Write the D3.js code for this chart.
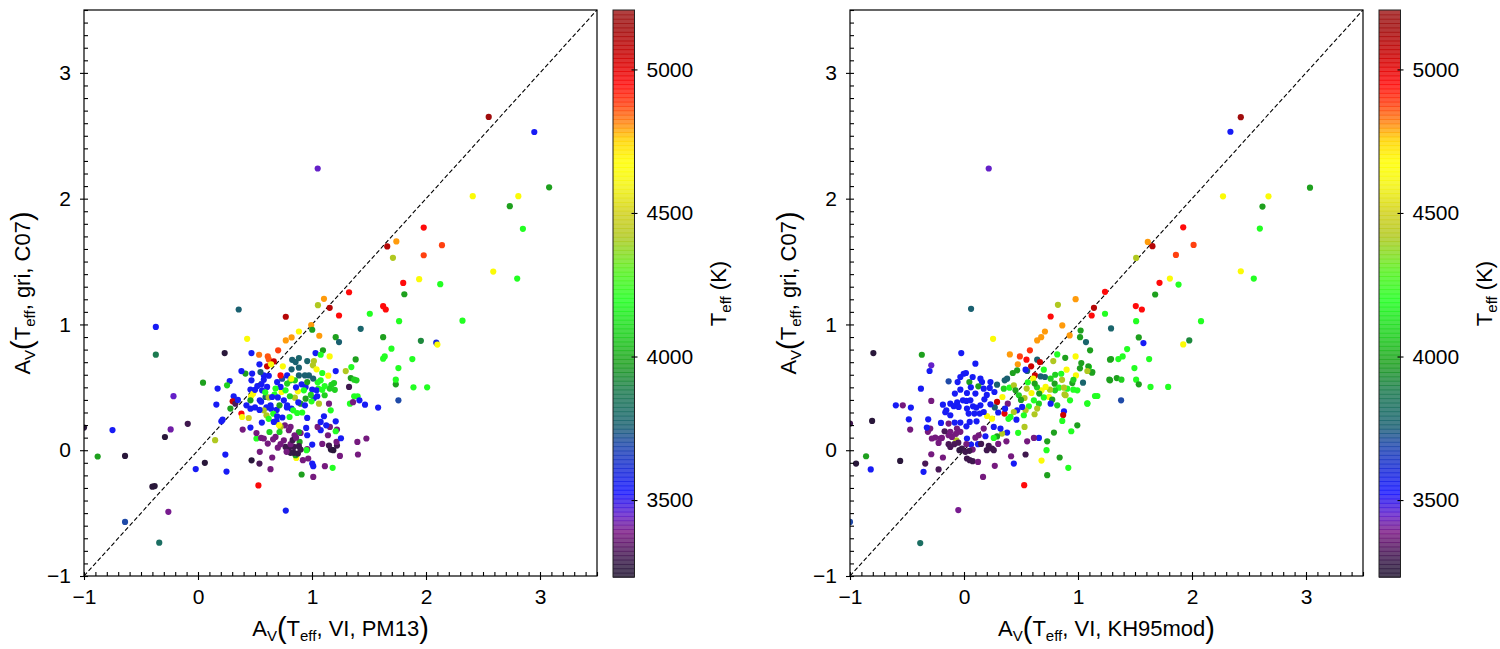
<!DOCTYPE html>
<html>
<head>
<meta charset="utf-8">
<script src="https://cdn.jsdelivr.net/npm/d3@7"></script>
<style>
  body { margin: 0; background: #fff; }
  svg text { font-family: "Liberation Sans", Arial, sans-serif; fill: #000; }
</style>
</head>
<body>
<div id="chart"></div>
<script>

// axis ticks and colour range
const majorTicks = [-1, 0, 1, 2, 3];
const tempTicks = [3500, 4000, 4500, 5000];
const tempRange = [3232, 5207];

// colormap stops (Teff -> colour)
const cmapTemps = [3232, 3270, 3320, 3390, 3450, 3530, 3640, 3700, 3760, 3800, 3880, 3980, 4080, 4200, 4300, 4420, 4500, 4600, 4680, 4760, 4820, 4880, 4950, 5050, 5150, 5207];
const cmapColors = ["#241634", "#2e1840", "#4a1858", "#7c1a84", "#6420c8", "#1616ff", "#1a34c8", "#1f4aa8", "#1a6070", "#1a6a68", "#1c7a50", "#1ea01e", "#20d020", "#22ff22", "#58f020", "#b0c820", "#d0d01c", "#f4f410", "#ffff00", "#ffd000", "#ff8010", "#ff4010", "#ff0a0a", "#cc0000", "#a00c0c", "#a01818"];

// [A_V(VI, PM13), A_V(gri, C07), Teff]
const pm13Points = [
  [-1.00, 0.18, 3250], [-0.88, -0.05, 3980], [-0.75, 0.16, 3550], [-0.64, -0.045, 3250], [-0.64, -0.57, 3700],
  [-0.40, -0.29, 3250], [-0.38, -0.285, 3250], [-0.29, 0.105, 3250], [-0.24, 0.165, 3420], [-0.26, -0.49, 3400],
  [-0.34, -0.735, 3820], [-0.09, 0.21, 3300], [-0.02, -0.15, 3550], [0.06, -0.10, 3250], [0.15, 0.08, 4420],
  [0.24, -0.035, 3550], [0.25, -0.17, 3550], [0.47, -0.08, 3250], [0.53, -0.28, 4960], [0.77, -0.48, 3560],
  [-0.37, 0.98, 3550], [-0.37, 0.76, 3880], [-0.215, 0.43, 3450], [1.05, 2.24, 3450],
  [2.55, 2.65, 5150], [2.95, 2.53, 3550], [3.08, 2.09, 3980], [2.41, 2.02, 4650], [2.81, 2.02, 4650],
  [2.735, 1.94, 3980], [2.85, 1.76, 4200], [1.98, 1.77, 4950], [2.14, 1.63, 4880], [1.74, 1.66, 4800],
  [1.66, 1.62, 5100], [1.71, 1.53, 4420], [1.98, 1.55, 4880], [2.59, 1.42, 4650], [2.80, 1.365, 4200],
  [1.94, 1.36, 4650], [1.80, 1.33, 4950], [2.125, 1.32, 4200], [1.81, 1.24, 3980], [2.32, 1.03, 4200],
  [1.955, 0.87, 3920], [2.09, 0.855, 3600], [2.10, 0.84, 4650], [1.88, 0.725, 4200], [1.735, 0.524, 3980],
  [1.89, 0.50, 4200], [2.01, 0.50, 4200],
  [1.325, 1.256, 4950], [1.105, 1.204, 4800], [1.052, 1.153, 4420], [1.155, 1.132, 5100], [1.237, 1.071, 4950],
  [1.624, 1.145, 4950], [1.647, 1.119, 4950], [1.507, 1.085, 4200], [1.764, 1.026, 4200], [0.357, 1.119, 3760],
  [0.770, 1.061, 5100], [0.993, 0.995, 4800], [1.002, 0.958, 3980], [0.885, 0.944, 4650], [1.064, 0.910, 4800],
  [0.821, 0.897, 4800], [0.770, 0.873, 4800], [0.431, 0.886, 4650], [1.208, 0.899, 3980], [1.237, 0.860, 3760],
  [1.427, 0.965, 3780], [1.624, 0.899, 3980], [1.697, 0.807, 4200], [1.624, 0.728, 4200], [1.638, 0.746, 4200],
  [1.758, 0.653, 4200], [1.383, 0.722, 3980], [1.345, 0.661, 4200], [1.296, 0.629, 4420], [1.34, 0.574, 3980],
  [1.37, 0.561, 4080], [1.39, 0.556, 4080], [1.735, 0.561, 4200], [1.758, 0.397, 3700], [1.37, 0.429, 4200],
  [1.40, 0.429, 4200], [1.333, 0.370, 4200], [1.416, 0.397, 3550], [1.465, 0.362, 3550], [1.580, 0.339, 3550],
  [1.325, 0.503, 3300], [1.36, 0.382, 3380], [1.477, 0.093, 3380], [1.398, 0.066, 3380], [1.403, -0.034, 3380],
  [1.245, -0.045, 3380], [1.166, 0.005, 3250], [1.187, 0.0, 3250], [1.149, 0.037, 3300], [1.219, 0.037, 3300],
  [1.140, 0.119, 3380], [1.215, 0.066, 3380], [1.254, 0.095, 3550], [1.219, 0.164, 3380], [1.157, 0.185, 3380],
  [1.125, 0.198, 3550], [1.076, 0.159, 3550], [1.049, 0.185, 3380], [1.208, 0.230, 3550], [1.208, 0.151, 4200],
  [0.958, 0.257, 3550], [0.949, 0.177, 3550], [0.958, 0.119, 3550], [1.002, 0.045, 3550], [0.891, 0.066, 3980],
  [0.958, 0.008, 3380], [0.952, 0.0, 4200], [1.002, -0.106, 3550], [1.011, -0.127, 3550], [0.920, -0.079, 3380],
  [0.967, -0.066, 3380], [0.862, -0.061, 4650], [0.856, -0.040, 3980], [0.876, -0.026, 3280], [0.841, -0.021, 3280],
  [0.812, -0.021, 3280], [0.797, 0.013, 3300], [0.768, 0.026, 3300], [0.841, 0.026, 3300], [0.885, 0.032, 3300],
  [0.900, 0.005, 3300], [0.777, -0.013, 3380], [0.812, 0.048, 3380], [0.724, 0.048, 3380], [0.680, 0.106, 3380],
  [0.753, 0.079, 3380], [0.797, 0.159, 3380], [0.762, 0.198, 3380], [0.812, 0.185, 3380], [0.900, 0.137, 3380],
  [0.885, 0.145, 3980], [0.847, 0.119, 3380], [0.724, 0.185, 4420], [0.715, 0.145, 4080], [0.627, 0.145, 4080],
  [0.659, 0.087, 3380], [0.577, 0.093, 3380], [0.612, 0.053, 3380], [0.513, 0.093, 4200], [0.554, 0.098, 3380],
  [0.513, 0.137, 3380], [0.542, -0.013, 3380], [0.539, -0.106, 3320], [0.651, -0.058, 3380], [0.636, -0.151, 3380],
  [0.392, 0.164, 3380], [0.460, 0.18, 3550], [0.909, -0.193, 3980], [1.011, -0.212, 3380], [1.113, -0.127, 3380],
  [1.181, -0.140, 4200], [0.234, 0.772, 3250], [0.469, 0.772, 3550], [0.536, 0.759, 4830], [0.612, 0.746, 4860],
  [0.621, 0.722, 4860], [0.703, 0.794, 4880], [0.665, 0.706, 5050], [0.606, 0.667, 5050], [0.641, 0.683, 4650],
  [0.539, 0.683, 3550], [0.744, 0.667, 4650], [0.826, 0.719, 3760], [0.856, 0.701, 3760], [0.885, 0.733, 3780],
  [0.958, 0.709, 3780], [1.031, 0.772, 3550], [1.096, 0.794, 3980], [1.076, 0.759, 4200], [1.155, 0.746, 4650],
  [1.017, 0.709, 4420], [1.008, 0.675, 4420], [1.040, 0.643, 4650], [1.090, 0.614, 4200], [1.143, 0.593, 4650],
  [1.208, 0.629, 3550], [1.193, 0.534, 4080], [1.17, 0.52, 4080], [1.20, 0.48, 4080], [1.155, 0.49, 4080],
  [1.111, 0.51, 4200], [1.076, 0.556, 4200], [1.055, 0.49, 4200], [0.973, 0.595, 3760], [0.938, 0.595, 3760],
  [0.885, 0.656, 3760], [0.821, 0.643, 3760], [0.885, 0.595, 3760], [0.85, 0.556, 4080], [0.812, 0.556, 4080],
  [0.782, 0.53, 4080], [0.909, 0.524, 3550], [0.944, 0.503, 3550], [1.002, 0.482, 3550], [1.017, 0.415, 3550],
  [1.046, 0.429, 3550], [0.996, 0.389, 4200], [1.111, 0.437, 4080], [1.149, 0.370, 3380], [1.061, 0.37, 4420],
  [1.164, 0.317, 4200], [1.105, 0.270, 3550], [1.076, 0.225, 3550], [0.876, 0.468, 4650], [0.850, 0.418, 4420],
  [0.806, 0.429, 4080], [0.733, 0.463, 4650], [0.768, 0.476, 4200], [0.724, 0.503, 3550], [0.694, 0.542, 3550],
  [0.680, 0.49, 4200], [0.738, 0.569, 3700], [0.782, 0.595, 3550], [0.724, 0.595, 4950], [0.818, 0.569, 4650],
  [0.621, 0.592, 3550], [0.577, 0.595, 3550], [0.548, 0.621, 3760], [0.557, 0.524, 3550], [0.577, 0.56, 3550],
  [0.475, 0.609, 3550], [0.416, 0.609, 3980], [0.381, 0.629, 3550], [0.278, 0.55, 3550], [0.255, 0.516, 4080],
  [0.172, 0.49, 3550], [0.044, 0.537, 3980], [0.313, 0.429, 3550], [0.161, 0.363, 3550], [0.304, 0.389, 5050],
  [0.328, 0.37, 3320], [0.284, 0.331, 3980], [0.216, 0.243, 3550], [0.205, 0.230, 3550], [0.381, 0.291, 4950],
  [0.387, 0.264, 4650], [0.445, 0.256, 4500], [0.460, 0.482, 3550], [0.466, 0.429, 4650], [0.484, 0.45, 4650],
  [0.50, 0.48, 3550], [0.52, 0.51, 3550], [0.460, 0.397, 3980], [0.542, 0.397, 3550], [0.554, 0.386, 3550],
  [0.50, 0.34, 3550], [0.60, 0.34, 3550], [0.64, 0.33, 3550], [0.69, 0.32, 3550], [0.601, 0.278, 4420],
  [0.62, 0.25, 4200], [0.66, 0.29, 4200], [0.689, 0.233, 3550], [0.71, 0.20, 4650], [0.694, 0.270, 3550],
  [0.665, 0.225, 3550], [0.78, 0.34, 3550], [0.82, 0.33, 3550], [0.803, 0.264, 4200], [0.870, 0.296, 4200],
  [0.914, 0.30, 4200], [0.577, 0.317, 4420], [0.54, 0.32, 3550], [0.46, 0.33, 3550], [0.425, 0.357, 3550],
  [0.469, 0.556, 3550], [0.592, 0.423, 3760], [0.636, 0.357, 3550], [0.62, 0.42, 4420], [0.671, 0.442, 4200],
  [0.715, 0.357, 3980], [0.753, 0.397, 3550], [0.782, 0.357, 3550], [0.835, 0.317, 4200], [0.900, 0.37, 3980],
  [0.938, 0.357, 3550], [0.944, 0.41, 3980], [0.929, 0.476, 4200], [0.958, 0.542, 3980], [1.05, 0.54, 4200],
  [1.01, 0.57, 3760], [1.040, 0.476, 3550], [1.09, 0.48, 4200],
  [0.562, 0.476, 3550], [0.606, 0.503, 3550], [0.65, 0.423, 3550], [0.70, 0.42, 3550], [0.59, 0.46, 4200],
  [0.86, 0.50, 3550], [0.99, 0.44, 4080], [0.88, 0.38, 3550], [0.74, 0.26, 3550], [0.56, 0.22, 3550],
  [0.35, 0.40, 3550], [0.83, 0.08, 3300], [0.86, 0.10, 3380], [0.70, 0.02, 3380], [1.09, 0.05, 3380]
];

// [A_V(VI, KH95mod), A_V(gri, C07), Teff]
const kh95Points = [
  [0.217, 2.24, 3450], [0.062, 1.124, 3760], [-0.384, -0.738, 3820], [-0.05, -0.476, 3400], [-1.0, -0.57, 3700],
  [2.428, 2.648, 5150], [2.337, 2.532, 3550], [3.035, 2.087, 3980], [2.272, 2.019, 4650], [2.671, 2.019, 4650],
  [2.618, 1.937, 3980], [2.595, 1.762, 4200], [1.923, 1.772, 4950], [2.014, 1.632, 4880], [1.612, 1.656, 4800],
  [1.653, 1.622, 5100], [1.510, 1.529, 4420], [1.859, 1.553, 4880], [2.428, 1.423, 4650], [2.542, 1.365, 4200],
  [1.806, 1.365, 4650], [1.715, 1.331, 4950], [1.882, 1.317, 4200], [1.677, 1.238, 3980], [1.237, 1.259, 4950],
  [1.140, 1.132, 5100], [1.120, 1.071, 4950], [1.507, 1.146, 4950], [1.560, 1.119, 4950], [1.237, 1.085, 4200],
  [1.510, 1.026, 4200], [2.079, 1.026, 4200], [0.979, 1.201, 4800], [0.824, 1.156, 4420], [1.290, 0.968, 3780],
  [1.533, 0.897, 3980], [1.574, 0.852, 3550], [1.923, 0.841, 4650], [1.976, 0.873, 3920], [1.431, 0.804, 4200],
  [1.392, 0.746, 4200], [1.354, 0.725, 4200], [1.290, 0.725, 3980], [1.495, 0.653, 4200], [1.624, 0.725, 4200],
  [1.275, 0.561, 3980], [1.340, 0.574, 3980], [1.381, 0.561, 4080], [1.510, 0.561, 4200], [1.533, 0.524, 3980],
  [1.636, 0.503, 4200], [1.791, 0.503, 4200], [1.149, 0.431, 4200], [1.170, 0.431, 4200], [1.082, 0.373, 4200],
  [1.378, 0.397, 3700], [1.017, 0.651, 3980], [1.096, 0.661, 4200], [1.123, 0.616, 3980], [0.888, 0.735, 3980],
  [0.882, 0.444, 4420],
  [0.760, 1.063, 4950], [0.862, 0.992, 4800], [0.927, 0.913, 4800], [0.710, 0.944, 4800], [0.677, 0.899, 4800],
  [0.642, 0.873, 4800], [0.255, 0.886, 4650], [1.023, 0.952, 3980], [1.018, 0.899, 3980], [1.070, 0.860, 3780],
  [1.106, 0.794, 3980], [0.578, 0.794, 4900], [0.490, 0.746, 4880], [0.402, 0.762, 4800], [0.548, 0.72, 4950],
  [0.642, 0.72, 3760], [0.666, 0.701, 5050], [0.589, 0.667, 5050], [0.472, 0.683, 4800], [0.554, 0.630, 3760],
  [0.54, 0.64, 3550], [0.466, 0.635, 3980], [0.428, 0.614, 3980], [0.378, 0.569, 3760], [0.357, 0.556, 3760],
  [0.290, 0.521, 3760], [0.267, 0.463, 3550], [0.337, 0.423, 4650], [0.349, 0.489, 4080], [0.399, 0.497, 4200],
  [0.437, 0.516, 4420], [0.452, 0.476, 3980], [0.481, 0.437, 4080], [0.531, 0.415, 4420], [0.50, 0.40, 3980],
  [0.622, 0.595, 5050], [0.607, 0.569, 4650], [0.672, 0.587, 3760], [0.710, 0.582, 3760], [0.760, 0.569, 4080],
  [0.783, 0.709, 4420], [0.818, 0.762, 4200], [0.853, 0.608, 4200], [0.900, 0.640, 4650], [0.979, 0.746, 4650],
  [1.029, 0.693, 3980], [1.091, 0.667, 3980], [1.126, 0.622, 3980], [1.082, 0.63, 4420], [0.982, 0.595, 4650],
  [0.950, 0.534, 3980], [0.906, 0.489, 4200], [0.994, 0.476, 4200], [0.959, 0.481, 4200], [1.044, 0.537, 3780],
  [0.795, 0.529, 3980], [0.833, 0.497, 4200], [0.877, 0.497, 4420], [0.891, 0.437, 4420], [0.930, 0.397, 4200],
  [0.798, 0.476, 4080], [0.754, 0.481, 4420], [0.745, 0.423, 4650], [0.774, 0.402, 3980], [0.818, 0.357, 4080],
  [0.760, 0.370, 3550], [0.716, 0.503, 4650], [0.680, 0.476, 4650], [0.64, 0.50, 4080], [0.62, 0.53, 3980],
  [0.592, 0.455, 4650], [0.56, 0.54, 4200], [0.613, 0.397, 4200], [0.657, 0.370, 4080], [0.642, 0.331, 4420],
  [0.619, 0.286, 4420], [0.569, 0.349, 4200], [0.540, 0.317, 4420], [0.525, 0.278, 4200], [0.466, 0.317, 3550],
  [0.510, 0.344, 3550], [0.437, 0.304, 4420], [0.408, 0.265, 4200], [0.355, 0.291, 5000], [0.290, 0.384, 5050],
  [0.27, 0.34, 3760], [0.384, 0.370, 3380], [0.36, 0.33, 3550], [0.39, 0.25, 4200], [0.246, 0.251, 4650],
  [0.202, 0.272, 4650], [0.460, 0.243, 3550], [0.531, 0.185, 4420], [0.475, 0.138, 4200], [0.378, 0.140, 3550],
  [0.334, 0.132, 4420], [0.29, 0.11, 3980], [0.261, 0.098, 4200], [0.320, 0.172, 3550], [0.877, 0.310, 3550],
  [0.870, 0.280, 5050], [0.862, 0.233, 4200], [0.994, 0.198, 3980], [0.941, 0.151, 4200], [1.082, 0.370, 4200],
  [1.281, 0.556, 3980], [1.281, 0.72, 3980], [0.789, 0.140, 3980], [0.730, 0.071, 3980], [0.724, 0.0, 4200],
  [0.839, -0.058, 3980], [0.915, -0.140, 4200], [0.680, -0.082, 4650], [0.730, -0.198, 3980], [0.528, -0.278, 4950],
  [0.554, 0.071, 3380], [0.540, -0.034, 3300], [0.657, 0.098, 3550], [0.613, 0.098, 3380], [0.437, -0.106, 3550],
  [0.413, -0.048, 3380], [0.372, 0.071, 3380], [0.270, -0.124, 3380], [0.167, -0.212, 3380], [0.261, 0.0, 3300],
  [0.246, 0.013, 3300], [0.217, 0.034, 3300], [0.188, 0.111, 3550], [0.123, 0.048, 3550], [0.129, 0.119, 3380],
  [0.062, 0.045, 3550], [0.026, 0.093, 3550], [0.021, 0.048, 3380], [0.076, 0.005, 3380], [0.047, -0.005, 3300],
  [0.012, -0.013, 3300], [-0.018, 0.013, 3300], [-0.04, 0.0, 3280], [0.026, -0.066, 3300], [0.05, -0.079, 3300],
  [0.076, -0.087, 3300], [0.123, -0.093, 3380], [-0.067, 0.079, 4420], [-0.085, 0.048, 3320], [-0.12, 0.026, 3320],
  [-0.135, 0.048, 3320], [-0.106, 0.106, 3380], [-0.135, 0.119, 3380], [-0.12, 0.146, 3380], [-0.062, 0.172, 3380],
  [0.021, 0.19, 3550], [-0.032, 0.220, 3550], [-0.082, 0.220, 3550], [-0.135, 0.212, 3380], [-0.202, 0.217, 3550],
  [-0.170, 0.151, 3320], [-0.194, 0.098, 3380], [-0.223, 0.058, 3380], [-0.208, 0.093, 3380], [-0.252, 0.101, 3380],
  [-0.282, 0.093, 3380], [-0.287, -0.032, 3380], [-0.296, 0.172, 3380], [-0.317, 0.146, 3380], [-0.326, 0.180, 3550],
  [-0.314, 0.246, 3550], [-0.185, -0.058, 3380], [-0.340, -0.106, 3320], [-0.355, -0.172, 3550], [-0.223, -0.153, 3320],
  [-0.472, 0.164, 3380], [-0.484, 0.246, 3550], [-0.466, 0.339, 3550], [-0.537, 0.357, 3380], [-0.598, 0.357, 3550],
  [-0.378, 0.489, 3550], [-0.287, 0.675, 3450], [-0.302, 0.630, 3550], [-0.370, 0.759, 3980], [-0.795, 0.772, 3250],
  [-0.806, 0.233, 3250], [-1.0, 0.212, 3300], [-0.947, -0.106, 3250], [-0.859, -0.048, 3980], [-0.818, -0.153, 3550],
  [-0.560, -0.085, 3250], [-0.287, 0.392, 3380], [-0.185, 0.362, 3550], [-0.155, 0.317, 3550], [-0.12, 0.37, 3550],
  [-0.09, 0.35, 3550], [-0.06, 0.38, 3550], [-0.024, 0.772, 3550], [0.100, 0.688, 3550], [-0.003, 0.608, 3550],
  [0.017, 0.614, 3550], [-0.032, 0.582, 3550], [-0.056, 0.542, 3550], [-0.135, 0.548, 3700], [0.047, 0.542, 3980],
  [0.076, 0.582, 3550], [0.144, 0.569, 3550], [0.158, 0.542, 3550], [0.126, 0.508, 3980], [0.232, 0.542, 3550],
  [0.226, 0.495, 3550], [0.173, 0.489, 3550], [-0.032, 0.481, 3550], [0.026, 0.455, 3550], [-0.009, 0.397, 3550],
  [0.021, 0.392, 3550], [0.056, 0.397, 3550], [0.079, 0.349, 3550], [0.108, 0.339, 3550], [0.144, 0.357, 3550],
  [0.173, 0.304, 3550], [0.138, 0.291, 3550], [0.091, 0.291, 3550], [0.179, 0.405, 3550], [0.232, 0.365, 3550],
  [0.050, 0.225, 3550], [0.11, 0.23, 3550], [0.041, 0.291, 3550], [-0.047, 0.344, 3550], [-0.12, 0.278, 3550],
  [-0.164, 0.302, 3550], [0.026, 0.331, 3550], [-0.032, 0.146, 3380], [-0.07, 0.13, 3380], [0.173, 0.172, 3380],
  [0.261, 0.185, 3550], [0.30, 0.05, 3380], [0.20, 0.0, 3300],
  [0.10, 0.45, 3550], [0.20, 0.44, 3550], [0.06, 0.50, 3550], [-0.08, 0.45, 3550], [0.30, 0.30, 3550],
  [0.70, 0.64, 4200], [0.80, 0.60, 4080], [0.86, 0.56, 4420], [0.70, 0.42, 4200], [0.66, 0.45, 3980],
  [0.55, 0.49, 4420], [0.96, 0.56, 4080], [0.10, 0.10, 3380], [0.15, 0.05, 3300], [-0.05, 0.06, 3320]
];

const svgWidth = 1500, svgHeight = 649;
const panelOffset = 766;

const svg = d3.select("#chart")
  .append("svg")
    .attr("width", svgWidth)
    .attr("height", svgHeight);

const color = d3.scaleLinear()
  .domain(cmapTemps)
  .range(cmapColors)
  .clamp(true);

const fmt = d => d < 0 ? "\u2212" + Math.abs(d) : String(d);
const minorTicks = d3.range(-10, 36).map(i => i / 10);

// write a label with subscripts and tall brackets
function mathLabel(sel, parts) {
  let shift = 0;
  parts.forEach(([txt, kind]) => {
    const size = kind === "sub" ? 15 : kind === "big" ? 29 : 22;
    const s = kind === "sub" ? 4.5 : kind === "big" ? 2 : 0;
    sel.append("tspan")
      .attr("font-size", size)
      .attr("dy", s - shift)
      .text(txt);
    shift = s;
  });
}

function styleAxis(a) {
  a.select(".domain").remove();
  a.selectAll("line").attr("stroke", "black").attr("stroke-width", 1.1);
  a.selectAll("text")
    .style("font-family", "'Liberation Sans', Arial, sans-serif")
    .style("font-size", "21px")
    .attr("fill", "black");
}

function drawPanel(index, points, xParts) {
  const g = svg.append("g")
    .attr("transform", `translate(${index * panelOffset},0)`);

  const x = d3.scaleLinear().domain([-1, 3.5]).range([84, 597]);
  const y = d3.scaleLinear().domain([-1, 3.5]).range([576, 10]);

  g.append("clipPath")
    .attr("id", "clip" + index)
  .append("rect")
    .attr("x", x(-1)).attr("y", y(3.5))
    .attr("width", x(3.5) - x(-1)).attr("height", y(-1) - y(3.5));

  // one-to-one line
  g.append("line")
    .attr("x1", x(-1)).attr("y1", y(-1))
    .attr("x2", x(3.5)).attr("y2", y(3.5))
    .attr("stroke", "black")
    .attr("stroke-width", 1.1)
    .attr("stroke-dasharray", "4.4,2.4");

  // points
  g.append("g")
    .attr("clip-path", `url(#clip${index})`)
  .selectAll("circle")
  .data(points)
  .join("circle")
    .attr("cx", d => x(d[0]))
    .attr("cy", d => y(d[1]))
    .attr("r", 3.1)
    .attr("fill", d => color(d[2]));

  // frame
  g.append("rect")
    .attr("x", x(-1)).attr("y", y(3.5))
    .attr("width", x(3.5) - x(-1)).attr("height", y(-1) - y(3.5))
    .attr("fill", "none")
    .attr("stroke", "black")
    .attr("stroke-width", 1.2);

  // X axis: outer major ticks with labels, inner ticks every 0.1
  const xOut = g.append("g")
    .attr("transform", `translate(0,${y(-1)})`)
    .call(d3.axisBottom(x).tickValues(majorTicks).tickSize(4).tickSizeOuter(0).tickPadding(9).tickFormat(fmt));
  const xIn = g.append("g")
    .attr("transform", `translate(0,${y(-1)})`)
    .call(d3.axisBottom(x).tickValues(minorTicks).tickSize(-4).tickSizeOuter(0).tickFormat(""));

  // Y axis
  const yOut = g.append("g")
    .attr("transform", `translate(${x(-1)},0)`)
    .call(d3.axisLeft(y).tickValues(majorTicks).tickSize(4).tickSizeOuter(0).tickPadding(9).tickFormat(fmt));
  const yIn = g.append("g")
    .attr("transform", `translate(${x(-1)},0)`)
    .call(d3.axisLeft(y).tickValues(minorTicks).tickSize(-4).tickSizeOuter(0).tickFormat(""));

  [xOut, xIn, yOut, yIn].forEach(styleAxis);

  // axis labels
  mathLabel(g.append("text")
    .attr("x", (x(-1) + x(3.5)) / 2)
    .attr("y", 636)
    .attr("text-anchor", "middle"), xParts);

  mathLabel(g.append("text")
    .attr("transform", `translate(30,${(y(-1) + y(3.5)) / 2}) rotate(-90)`)
    .attr("text-anchor", "middle"),
    [["A"], ["V", "sub"], ["(", "big"], ["T"], ["eff", "sub"], [", gri, C07"], [")", "big"]]);

  // colorbar
  const cbX = 613, cbW = 21.5;
  const cb = d3.scaleLinear().domain(tempRange).range([577, 10]);
  const nBands = 130;
  const step = (tempRange[1] - tempRange[0]) / nBands;
  const bands = d3.range(nBands).map(i => tempRange[0] + i * step);

  g.append("g")
  .selectAll("rect")
  .data(bands)
  .join("rect")
    .attr("x", cbX)
    .attr("width", cbW)
    .attr("y", d => cb(d + step))
    .attr("height", d => cb(d) - cb(d + step) + 0.9)
    .attr("fill", d => color(d + step / 2))
    .attr("fill-opacity", 0.82);

  g.append("rect")
    .attr("x", cbX).attr("y", cb(tempRange[1]))
    .attr("width", cbW).attr("height", cb(tempRange[0]) - cb(tempRange[1]))
    .attr("fill", "none")
    .attr("stroke", "#222")
    .attr("stroke-width", 1);

  const cbOut = g.append("g")
    .attr("transform", `translate(${cbX + cbW},0)`)
    .call(d3.axisRight(cb).tickValues(tempTicks).tickSize(3).tickSizeOuter(0).tickPadding(9).tickFormat(d3.format("d")));
  const cbIn = g.append("g")
    .attr("transform", `translate(${cbX + cbW},0)`)
    .call(d3.axisRight(cb).tickValues(tempTicks).tickSize(-3).tickSizeOuter(0).tickFormat(""));
  [cbOut, cbIn].forEach(styleAxis);

  mathLabel(g.append("text")
    .attr("transform", `translate(726,${(cb(tempRange[0]) + cb(tempRange[1])) / 2}) rotate(-90)`)
    .attr("text-anchor", "middle"),
    [["T"], ["eff", "sub"], [" (K)"]]);
}

drawPanel(0, pm13Points, [["A"], ["V", "sub"], ["(", "big"], ["T"], ["eff", "sub"], [", VI, PM13"], [")", "big"]]);
drawPanel(1, kh95Points, [["A"], ["V", "sub"], ["(", "big"], ["T"], ["eff", "sub"], [", VI, KH95mod"], [")", "big"]]);

</script>
</body>
</html>
